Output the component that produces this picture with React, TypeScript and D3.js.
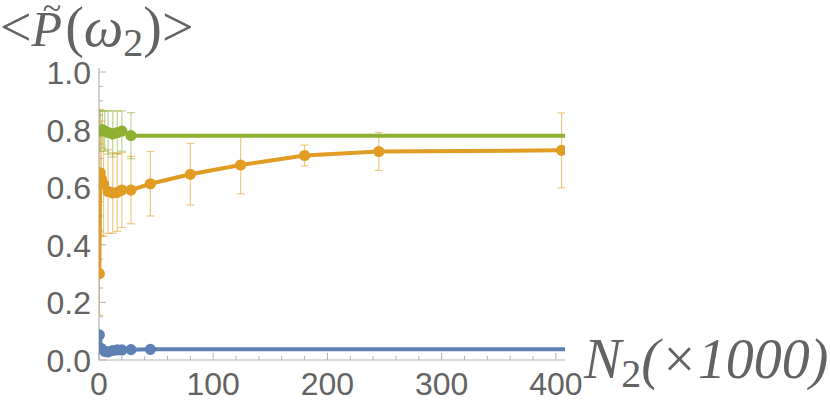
import React from "react";
import * as d3 from "d3";

const W = 830;
const H = 401;

// Blue series
const blueX = [0.3, 2, 5, 8, 12, 16, 20, 28, 45, 450];
const blueY = [0.087, 0.04, 0.03, 0.028, 0.033, 0.035, 0.035, 0.036, 0.037, 0.037];
const blueErr = [0.005, 0.005, 0.005, 0.005, 0.005, 0.005, 0.005, 0.005, 0.005, 0.005];

// Orange series
const orangeX = [0.3, 1, 2, 4, 8, 12, 16, 20, 28, 45, 80, 124, 180, 245, 405];
const orangeY = [0.30, 0.65, 0.63, 0.61, 0.585, 0.58, 0.582, 0.59, 0.59, 0.612, 0.645, 0.677, 0.71, 0.724, 0.728];
const orangeErr = [0.145, 0.22, 0.2, 0.18, 0.145, 0.14, 0.135, 0.13, 0.117, 0.112, 0.107, 0.1, 0.036, 0.066, 0.13];

// Green series
const greenX = [1, 3, 5, 8, 12, 16, 20, 28, 450];
const greenY = [0.795, 0.8, 0.795, 0.79, 0.785, 0.79, 0.795, 0.779, 0.779];
const greenErr = [0.07, 0.065, 0.07, 0.075, 0.08, 0.075, 0.07, 0.08, 0.0];

const xTicks = [0, 100, 200, 300, 400];
const yTicks = [0, 0.2, 0.4, 0.6, 0.8, 1.0];

const BLUE = "#5E81B5";
const ORANGE = "#E19C24";
const GREEN = "#8FB032";

export default function App() {
  const x = d3.scaleLinear().domain([0, 408]).range([99, 565]);
  const y = d3.scaleLinear().domain([0, 1]).range([360, 72]);

  const xMinor = d3.range(0, 408, 20);
  const yMinor = d3.range(0, 1.0001, 0.05);

  const series = [
    { xs: blueX, ys: blueY, es: blueErr, color: BLUE },
    { xs: orangeX, ys: orangeY, es: orangeErr, color: ORANGE },
    { xs: greenX, ys: greenY, es: greenErr, color: GREEN },
  ];

  const axisColor = "#b3b3b3";
  const labelColor = "#636363";
  const serif = "Liberation Serif, Times New Roman, serif";

  return (
    <svg
      width={W}
      height={H}
      style={{ position: "absolute", left: 0, top: 0, background: "#fff" }}
    >
      <defs>
        <clipPath id="plotclip">
          <rect x={99} y={40} width={466} height={330} />
        </clipPath>
      </defs>

      {/* axes */}
      <line x1={99} x2={565} y1={360} y2={360} stroke={axisColor} strokeWidth={1.2} />
      <line x1={99} x2={99} y1={68} y2={360} stroke={axisColor} strokeWidth={1.2} />

      {xMinor.map((t) => {
        const major = t % 100 === 0;
        return (
          <line
            key={"xm" + t}
            x1={x(t)}
            x2={x(t)}
            y1={360}
            y2={360 - (major ? 7 : 4)}
            stroke={axisColor}
            strokeWidth={1}
          />
        );
      })}
      {yMinor.map((t, i) => {
        const major = i % 4 === 0;
        return (
          <line
            key={"ym" + i}
            x1={99}
            x2={99 + (major ? 7 : 4)}
            y1={y(t)}
            y2={y(t)}
            stroke={axisColor}
            strokeWidth={1}
          />
        );
      })}

      {xTicks.map((t) => (
        <text
          key={"xl" + t}
          x={x(t)}
          y={395}
          textAnchor="middle"
          fontFamily="Liberation Sans, Arial, sans-serif"
          fontSize={32}
          fill={labelColor}
        >
          {t}
        </text>
      ))}
      {yTicks.map((t) => (
        <text
          key={"yl" + t}
          x={91}
          y={y(t) + 12}
          textAnchor="end"
          fontFamily="Liberation Sans, Arial, sans-serif"
          fontSize={32}
          fill={labelColor}
        >
          {t.toFixed(1)}
        </text>
      ))}

      {/* data */}
      <g clipPath="url(#plotclip)">
        {series.map((s, si) => {
          const pts = s.xs.map((xv, i) => [x(xv), y(s.ys[i])] as [number, number]);
          const path = d3.line()(pts) || "";
          return (
            <g key={"s" + si}>
              {s.xs.map((xv, i) => {
                const e = s.es[i];
                if (e <= 0) return null;
                const cx = x(xv);
                const y1 = y(s.ys[i] + e);
                const y2 = y(s.ys[i] - e);
                return (
                  <g key={"e" + i} stroke={s.color} strokeOpacity={0.55} strokeWidth={1.2}>
                    <line x1={cx} x2={cx} y1={y1} y2={y2} />
                    <line x1={cx - 4} x2={cx + 4} y1={y1} y2={y1} />
                    <line x1={cx - 4} x2={cx + 4} y1={y2} y2={y2} />
                  </g>
                );
              })}
              <path d={path} fill="none" stroke={s.color} strokeWidth={4} strokeLinejoin="round" />
              {pts.map((p, i) => (
                <circle key={"c" + i} cx={p[0]} cy={p[1]} r={5.6} fill={s.color} />
              ))}
            </g>
          );
        })}
      </g>

      {/* Y axis title */}
      <text x={0} y={46} fontFamily={serif} fontSize={56} fill={labelColor}>
        <tspan>&lt;</tspan>
        <tspan fontStyle="italic" fontSize={50}>P</tspan>
        <tspan dx={3}>(</tspan>
        <tspan fontStyle="italic">ω</tspan>
        <tspan fontSize={40} dy={10}>2</tspan>
        <tspan dy={-10}>)</tspan>
        <tspan>&gt;</tspan>
      </text>
      <text
        x={52}
        y={19}
        textAnchor="middle"
        fontFamily={serif}
        fontSize={34}
        fill={labelColor}
      >
        ~
      </text>

      {/* X axis title */}
      <text
        x={584}
        y={378}
        fontFamily={serif}
        fontSize={56}
        fill={labelColor}
        fontStyle="italic"
      >
        <tspan>N</tspan>
        <tspan fontSize={40} dy={9} fontStyle="normal">2</tspan>
        <tspan dy={-9}>(×1000)</tspan>
      </text>
    </svg>
  );
}
